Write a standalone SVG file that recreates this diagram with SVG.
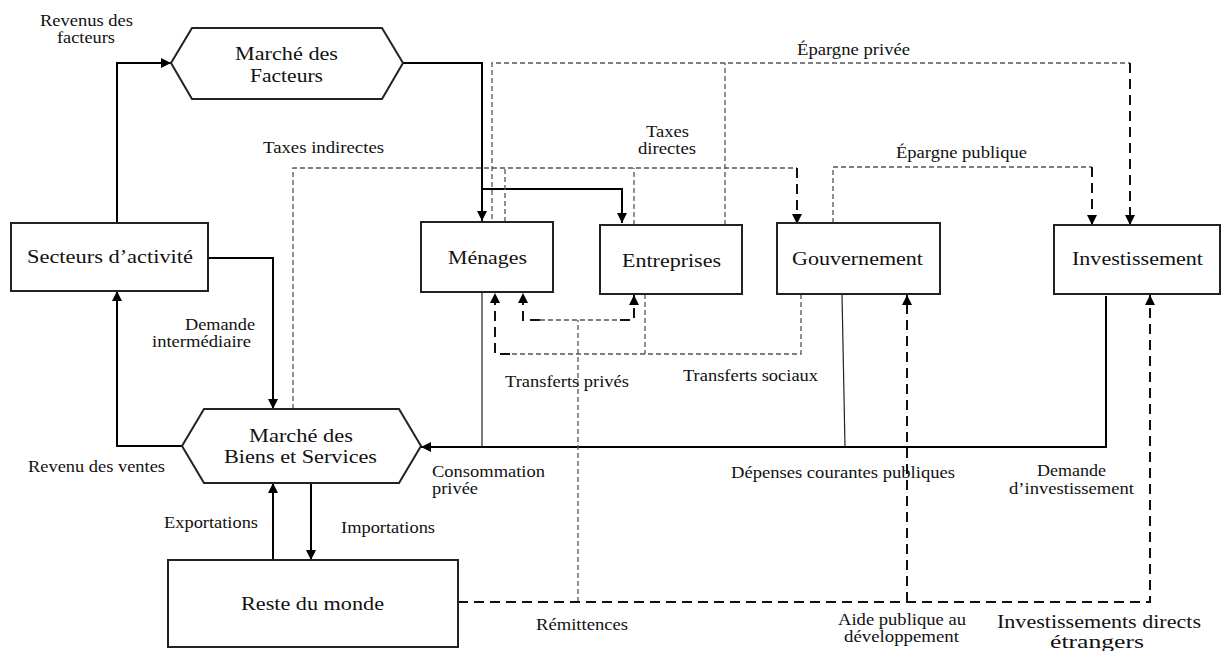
<svg xmlns="http://www.w3.org/2000/svg" width="1222" height="651" viewBox="0 0 1222 651">
<defs>
<marker id="ah" viewBox="0 0 10 10" refX="10" refY="5" markerWidth="10" markerHeight="10" markerUnits="userSpaceOnUse" orient="auto"><path d="M0,0 L10,5 L0,10 z" fill="#000"/></marker>
</defs>
<style>
text{font-family:"Liberation Serif","Times New Roman",serif;fill:#111;}
.n{font-size:19px;text-anchor:middle;}
.l{font-size:16px;text-anchor:middle;}
.ls{font-size:16px;}
.box{fill:#fff;stroke:#222;stroke-width:2;}
.s{fill:none;stroke:#000;stroke-width:2;}
.st{fill:none;stroke:#222;stroke-width:1.2;}
.d{fill:none;stroke:#555;stroke-width:1.3;stroke-dasharray:5,3;}
.dk{fill:none;stroke:#111;stroke-width:2;stroke-dasharray:10,6;}
</style>
<rect width="1222" height="651" fill="#fff"/>
<g id="connectors">
<path class="s" d="M117,223 V63 H171" marker-end="url(#ah)"/>
<path class="s" d="M403,63 H482 V221" marker-end="url(#ah)"/>
<path class="s" d="M482,189 H622 V223" marker-end="url(#ah)"/>
<path class="s" d="M208,258 H273 V409" marker-end="url(#ah)"/>
<path class="s" d="M182,446 H117 V291" marker-end="url(#ah)"/>
<path class="s" d="M273,560 V483" marker-end="url(#ah)"/>
<path class="s" d="M311,483 V560" marker-end="url(#ah)"/>
<path class="s" d="M1106,296 V447 H421" marker-end="url(#ah)"/>
<path class="st" d="M482,292 V447"/>
<path class="st" d="M842,294 L845,447"/>
<path class="d" d="M293,409 V168 H797"/>
<path class="d" d="M505,222 V168"/>
<path class="d" d="M634,225 V168"/>
<path class="dk" d="M797,168 V224" marker-end="url(#ah)"/>
<path class="d" d="M497,222 H492 V63 H1130"/>
<path class="d" d="M725,225 V63"/>
<path class="dk" d="M1130,63 V225" marker-end="url(#ah)"/>
<path class="d" d="M833,223 V167 H1092"/>
<path class="dk" d="M1092,167 V225" marker-end="url(#ah)"/>
<path class="d" d="M578,602 V320"/>
<path class="d" d="M540,320 H620"/>
<path class="dk" d="M540,320 H523 V293" marker-end="url(#ah)"/>
<path class="dk" d="M620,320 H634 V295" marker-end="url(#ah)"/>
<path class="d" d="M801,294 V354 H510"/>
<path class="d" d="M645,294 V354"/>
<path class="dk" d="M510,354 H495 V293" marker-end="url(#ah)"/>
<path class="dk" d="M458,602 H1150 V295" marker-end="url(#ah)"/>
<path class="dk" d="M907,602 V295" marker-end="url(#ah)"/>
</g>
<g id="marche-facteurs">
<polygon class="box" points="171,63 192,28 382,28 403,63 382,99 192,99"/>
<text class="n" x="286.5" y="60" textLength="103" lengthAdjust="spacingAndGlyphs">Marché des</text>
<text class="n" x="286.5" y="81.5" textLength="73" lengthAdjust="spacingAndGlyphs">Facteurs</text>
</g>
<g id="secteurs">
<rect class="box" x="11" y="223" width="197" height="68"/>
<text class="n" x="110" y="263" textLength="166" lengthAdjust="spacingAndGlyphs">Secteurs d’activité</text>
</g>
<g id="menages">
<rect class="box" x="421" y="222" width="132" height="70"/>
<text class="n" x="487.5" y="264" textLength="79" lengthAdjust="spacingAndGlyphs">Ménages</text>
</g>
<g id="entreprises">
<rect class="box" x="600" y="225" width="142" height="69"/>
<text class="n" x="671.5" y="267" textLength="99" lengthAdjust="spacingAndGlyphs">Entreprises</text>
</g>
<g id="gouvernement">
<rect class="box" x="777" y="223" width="163" height="71"/>
<text class="n" x="857.5" y="265" textLength="131" lengthAdjust="spacingAndGlyphs">Gouvernement</text>
</g>
<g id="investissement">
<rect class="box" x="1054" y="225" width="166" height="69"/>
<text class="n" x="1137.5" y="265" textLength="131" lengthAdjust="spacingAndGlyphs">Investissement</text>
</g>
<g id="marche-biens">
<polygon class="box" points="182,446 204,409 399,409 421,446 399,483 204,483"/>
<text class="n" x="301" y="442" textLength="104" lengthAdjust="spacingAndGlyphs">Marché des</text>
<text class="n" x="300.5" y="463" textLength="153" lengthAdjust="spacingAndGlyphs">Biens et Services</text>
</g>
<g id="reste-du-monde">
<rect class="box" x="168" y="560" width="290" height="87"/>
<text class="n" x="312.5" y="610" textLength="143" lengthAdjust="spacingAndGlyphs">Reste du monde</text>
</g>
<g id="labels">
<text class="l" x="86.5" y="26" textLength="93" lengthAdjust="spacingAndGlyphs">Revenus des</text>
<text class="l" x="86" y="43" textLength="58" lengthAdjust="spacingAndGlyphs">facteurs</text>
<text class="l" x="323.5" y="153" textLength="121" lengthAdjust="spacingAndGlyphs">Taxes indirectes</text>
<text class="l" x="853.5" y="55" textLength="113" lengthAdjust="spacingAndGlyphs">Épargne privée</text>
<text class="l" x="667.5" y="137" textLength="43" lengthAdjust="spacingAndGlyphs">Taxes</text>
<text class="l" x="667" y="154" textLength="58" lengthAdjust="spacingAndGlyphs">directes</text>
<text class="l" x="961.5" y="158" textLength="131" lengthAdjust="spacingAndGlyphs">Épargne publique</text>
<text class="l" x="220" y="330" textLength="70" lengthAdjust="spacingAndGlyphs">Demande</text>
<text class="l" x="201.5" y="347" textLength="99" lengthAdjust="spacingAndGlyphs">intermédiaire</text>
<text class="l" x="567" y="387" textLength="124" lengthAdjust="spacingAndGlyphs">Transferts privés</text>
<text class="l" x="750.5" y="381" textLength="135" lengthAdjust="spacingAndGlyphs">Transferts sociaux</text>
<text class="l" x="96.5" y="472" textLength="137" lengthAdjust="spacingAndGlyphs">Revenu des ventes</text>
<text class="ls" x="432" y="477" textLength="113" lengthAdjust="spacingAndGlyphs">Consommation</text>
<text class="ls" x="432" y="494" textLength="46" lengthAdjust="spacingAndGlyphs">privée</text>
<text class="l" x="843" y="478" textLength="224" lengthAdjust="spacingAndGlyphs">Dépenses courantes publiques</text>
<text class="l" x="1071.5" y="476" textLength="69" lengthAdjust="spacingAndGlyphs">Demande</text>
<text class="l" x="1071.5" y="494" textLength="125" lengthAdjust="spacingAndGlyphs">d’investissement</text>
<text class="l" x="211" y="528" textLength="94" lengthAdjust="spacingAndGlyphs">Exportations</text>
<text class="l" x="388" y="533" textLength="94" lengthAdjust="spacingAndGlyphs">Importations</text>
<text class="l" x="582" y="630" textLength="92" lengthAdjust="spacingAndGlyphs">Rémittences</text>
<text class="l" x="902" y="625" textLength="128" lengthAdjust="spacingAndGlyphs">Aide publique au</text>
<text class="l" x="901.5" y="642" textLength="115" lengthAdjust="spacingAndGlyphs">développement</text>
<text class="n" x="1099" y="628" textLength="204" lengthAdjust="spacingAndGlyphs">Investissements directs</text>
<text class="n" x="1097" y="648" textLength="94" lengthAdjust="spacingAndGlyphs">étrangers</text>
</g>
</svg>
